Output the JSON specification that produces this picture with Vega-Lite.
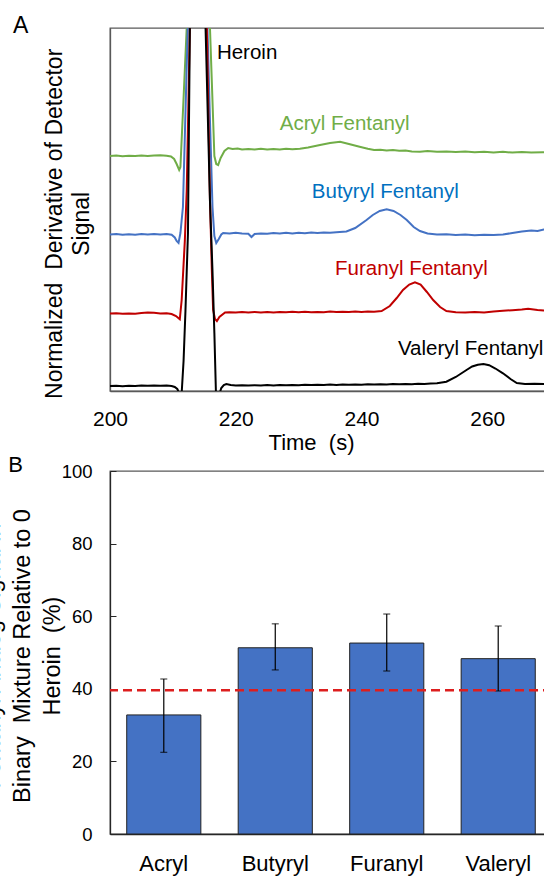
{
  "$schema": "https://vega.github.io/schema/vega-lite/v6.json",
  "autosize": {"type": "none"},
  "padding": {"left": 110, "top": 28, "right": 434, "bottom": 848},
  "background": "white",
  "bounds": "flush",
  "spacing": 80,
  "config": {
    "font": "Liberation Sans",
    "view": {"stroke": "#595959", "strokeWidth": 1.3},
    "title": {"font": "Liberation Sans", "fontWeight": "normal", "fontSize": 23, "color": "#000000"},
    "axis": {"labelFont": "Liberation Sans", "titleFont": "Liberation Sans", "labelColor": "#000000", "titleColor": "#000000", "titleFontWeight": "normal", "grid": false, "domainColor": "#404040", "tickColor": "#404040", "domainWidth": 1.3, "labelFlush": false}
  },
  "datasets": {
    "traces": [
      {"s":"Acryl","t":200,"v":235},{"s":"Acryl","t":201,"v":235.5},{"s":"Acryl","t":202,"v":234.8},{"s":"Acryl","t":203,"v":235.3},{"s":"Acryl","t":204,"v":235},{"s":"Acryl","t":205,"v":235.6},{"s":"Acryl","t":206,"v":235},{"s":"Acryl","t":207,"v":235.4},{"s":"Acryl","t":208,"v":235.8},{"s":"Acryl","t":209,"v":235.2},{"s":"Acryl","t":209.7,"v":234.5},{"s":"Acryl","t":210.2,"v":232},{"s":"Acryl","t":210.6,"v":227},{"s":"Acryl","t":211.0,"v":221},{"s":"Acryl","t":211.2,"v":224},{"s":"Acryl","t":211.7,"v":293},{"s":"Acryl","t":212.2,"v":363},{"s":"Acryl","t":212.5,"v":450},{"s":"Acryl","t":213.2,"v":1500},{"s":"Acryl","t":214,"v":3000},{"s":"Acryl","t":214.8,"v":1500},{"s":"Acryl","t":215.6,"v":450},{"s":"Acryl","t":215.9,"v":363},{"s":"Acryl","t":216.3,"v":290},{"s":"Acryl","t":216.6,"v":235},{"s":"Acryl","t":216.9,"v":227},{"s":"Acryl","t":217.2,"v":226},{"s":"Acryl","t":217.6,"v":233},{"s":"Acryl","t":218.2,"v":240},{"s":"Acryl","t":218.8,"v":243},{"s":"Acryl","t":219.5,"v":242},{"s":"Acryl","t":220.3,"v":242.5},{"s":"Acryl","t":221,"v":241.5},{"s":"Acryl","t":222,"v":242},{"s":"Acryl","t":223,"v":241.5},{"s":"Acryl","t":224,"v":242.3},{"s":"Acryl","t":225,"v":241.6},{"s":"Acryl","t":226,"v":242},{"s":"Acryl","t":227,"v":241.4},{"s":"Acryl","t":228,"v":242.2},{"s":"Acryl","t":229,"v":241.7},{"s":"Acryl","t":230.2,"v":242.3},{"s":"Acryl","t":231.5,"v":243.5},{"s":"Acryl","t":233.4,"v":246},{"s":"Acryl","t":235,"v":248},{"s":"Acryl","t":236.6,"v":249.3},{"s":"Acryl","t":238,"v":247},{"s":"Acryl","t":239.7,"v":244.3},{"s":"Acryl","t":241,"v":242.3},{"s":"Acryl","t":242,"v":241},{"s":"Acryl","t":243,"v":241.3},{"s":"Acryl","t":244,"v":240.5},{"s":"Acryl","t":245,"v":241},{"s":"Acryl","t":246,"v":240.2},{"s":"Acryl","t":247,"v":240.4},{"s":"Acryl","t":248,"v":239.6},{"s":"Acryl","t":249.3,"v":239.3},{"s":"Acryl","t":250.5,"v":240},{"s":"Acryl","t":252,"v":239.2},{"s":"Acryl","t":253.5,"v":239.6},{"s":"Acryl","t":255,"v":239},{"s":"Acryl","t":256.5,"v":239.5},{"s":"Acryl","t":258,"v":238.8},{"s":"Acryl","t":259.5,"v":239.3},{"s":"Acryl","t":261,"v":238.6},{"s":"Acryl","t":262.5,"v":239.2},{"s":"Acryl","t":264,"v":238.4},{"s":"Acryl","t":265.5,"v":239},{"s":"Acryl","t":267,"v":238.6},{"s":"Acryl","t":268.8,"v":238.7},{"s":"Acryl","t":270,"v":238.5},{"s":"Acryl","t":275,"v":238.5},{"s":"Acryl","t":280,"v":238.5},

      {"s":"Butyryl","t":200,"v":156.5},{"s":"Butyryl","t":201,"v":157},{"s":"Butyryl","t":202,"v":156.2},{"s":"Butyryl","t":203,"v":156.8},{"s":"Butyryl","t":204,"v":156.3},{"s":"Butyryl","t":205,"v":157},{"s":"Butyryl","t":206,"v":156.5},{"s":"Butyryl","t":207,"v":156.9},{"s":"Butyryl","t":208,"v":156.4},{"s":"Butyryl","t":209,"v":157},{"s":"Butyryl","t":209.8,"v":156.3},{"s":"Butyryl","t":210.3,"v":153.5},{"s":"Butyryl","t":210.6,"v":150},{"s":"Butyryl","t":210.9,"v":148},{"s":"Butyryl","t":211.2,"v":158},{"s":"Butyryl","t":211.6,"v":184},{"s":"Butyryl","t":212.0,"v":278},{"s":"Butyryl","t":212.4,"v":371},{"s":"Butyryl","t":212.8,"v":600},{"s":"Butyryl","t":214,"v":3000},{"s":"Butyryl","t":215.2,"v":600},{"s":"Butyryl","t":215.5,"v":363},{"s":"Butyryl","t":215.9,"v":270},{"s":"Butyryl","t":216.3,"v":184},{"s":"Butyryl","t":216.6,"v":155},{"s":"Butyryl","t":216.9,"v":148},{"s":"Butyryl","t":217.3,"v":152},{"s":"Butyryl","t":217.7,"v":156.5},{"s":"Butyryl","t":218,"v":158},{"s":"Butyryl","t":219,"v":157.5},{"s":"Butyryl","t":220,"v":158.2},{"s":"Butyryl","t":221,"v":157.6},{"s":"Butyryl","t":222,"v":157.2},{"s":"Butyryl","t":222.5,"v":154},{"s":"Butyryl","t":223,"v":157},{"s":"Butyryl","t":224,"v":157.6},{"s":"Butyryl","t":225,"v":157.2},{"s":"Butyryl","t":226,"v":158},{"s":"Butyryl","t":227,"v":157.5},{"s":"Butyryl","t":228,"v":158.2},{"s":"Butyryl","t":229,"v":157.6},{"s":"Butyryl","t":230,"v":158.3},{"s":"Butyryl","t":231,"v":157.8},{"s":"Butyryl","t":232,"v":158.4},{"s":"Butyryl","t":233,"v":157.9},{"s":"Butyryl","t":234,"v":158.5},{"s":"Butyryl","t":235,"v":158.2},{"s":"Butyryl","t":236,"v":158.8},{"s":"Butyryl","t":237.6,"v":159.5},{"s":"Butyryl","t":239,"v":163},{"s":"Butyryl","t":240.8,"v":171},{"s":"Butyryl","t":241.8,"v":176},{"s":"Butyryl","t":242.9,"v":180},{"s":"Butyryl","t":244,"v":181.7},{"s":"Butyryl","t":245.1,"v":180},{"s":"Butyryl","t":246.2,"v":176},{"s":"Butyryl","t":247.2,"v":171},{"s":"Butyryl","t":248.3,"v":164},{"s":"Butyryl","t":249.3,"v":160},{"s":"Butyryl","t":250.5,"v":157.5},{"s":"Butyryl","t":252,"v":156.5},{"s":"Butyryl","t":253.5,"v":156.8},{"s":"Butyryl","t":255,"v":156},{"s":"Butyryl","t":256.5,"v":156.4},{"s":"Butyryl","t":258,"v":155.7},{"s":"Butyryl","t":259.5,"v":156.2},{"s":"Butyryl","t":261,"v":156},{"s":"Butyryl","t":262.5,"v":156.5},{"s":"Butyryl","t":264,"v":158},{"s":"Butyryl","t":265.5,"v":159.5},{"s":"Butyryl","t":267,"v":160.5},{"s":"Butyryl","t":268,"v":160},{"s":"Butyryl","t":269,"v":161.5},{"s":"Butyryl","t":272,"v":161.5},{"s":"Butyryl","t":280,"v":162},

      {"s":"Furanyl","t":200,"v":77.5},{"s":"Furanyl","t":201,"v":77.8},{"s":"Furanyl","t":202,"v":77.2},{"s":"Furanyl","t":203,"v":77.6},{"s":"Furanyl","t":204,"v":77.3},{"s":"Furanyl","t":205,"v":78},{"s":"Furanyl","t":206,"v":78.5},{"s":"Furanyl","t":207,"v":78.2},{"s":"Furanyl","t":208,"v":77.4},{"s":"Furanyl","t":209,"v":77.8},{"s":"Furanyl","t":209.8,"v":77},{"s":"Furanyl","t":210.5,"v":75},{"s":"Furanyl","t":211.1,"v":71.7},{"s":"Furanyl","t":211.4,"v":91},{"s":"Furanyl","t":211.9,"v":150},{"s":"Furanyl","t":212.2,"v":200},{"s":"Furanyl","t":212.7,"v":363},{"s":"Furanyl","t":213,"v":500},{"s":"Furanyl","t":214,"v":3000},{"s":"Furanyl","t":215.1,"v":500},{"s":"Furanyl","t":215.4,"v":363},{"s":"Furanyl","t":215.9,"v":191},{"s":"Furanyl","t":216.2,"v":120},{"s":"Furanyl","t":216.4,"v":81},{"s":"Furanyl","t":216.7,"v":72},{"s":"Furanyl","t":217,"v":70},{"s":"Furanyl","t":217.4,"v":74},{"s":"Furanyl","t":218.3,"v":78.5},{"s":"Furanyl","t":219,"v":78.8},{"s":"Furanyl","t":220,"v":78.5},{"s":"Furanyl","t":221,"v":79.1},{"s":"Furanyl","t":222,"v":78.6},{"s":"Furanyl","t":223,"v":79},{"s":"Furanyl","t":224,"v":78.5},{"s":"Furanyl","t":225,"v":78.9},{"s":"Furanyl","t":226,"v":78.6},{"s":"Furanyl","t":227,"v":79.1},{"s":"Furanyl","t":228,"v":78.7},{"s":"Furanyl","t":229,"v":79.2},{"s":"Furanyl","t":230,"v":78.8},{"s":"Furanyl","t":231,"v":79.3},{"s":"Furanyl","t":232,"v":78.7},{"s":"Furanyl","t":233,"v":79.1},{"s":"Furanyl","t":234,"v":78.8},{"s":"Furanyl","t":235,"v":79.4},{"s":"Furanyl","t":236,"v":78.9},{"s":"Furanyl","t":237,"v":79.3},{"s":"Furanyl","t":238,"v":79},{"s":"Furanyl","t":239,"v":79.5},{"s":"Furanyl","t":240,"v":79.1},{"s":"Furanyl","t":241,"v":79.6},{"s":"Furanyl","t":242,"v":79.3},{"s":"Furanyl","t":243.2,"v":80},{"s":"Furanyl","t":244.5,"v":85},{"s":"Furanyl","t":245.6,"v":93},{"s":"Furanyl","t":246.6,"v":101},{"s":"Furanyl","t":247.6,"v":106.5},{"s":"Furanyl","t":248.5,"v":108.7},{"s":"Furanyl","t":249.4,"v":106.5},{"s":"Furanyl","t":250.4,"v":99},{"s":"Furanyl","t":251.4,"v":91},{"s":"Furanyl","t":252.5,"v":84},{"s":"Furanyl","t":253.5,"v":80},{"s":"Furanyl","t":255,"v":78.8},{"s":"Furanyl","t":256.5,"v":78.4},{"s":"Furanyl","t":258,"v":78.9},{"s":"Furanyl","t":259.5,"v":78.6},{"s":"Furanyl","t":261,"v":79.4},{"s":"Furanyl","t":262.5,"v":80.2},{"s":"Furanyl","t":264,"v":80.8},{"s":"Furanyl","t":265.5,"v":81.6},{"s":"Furanyl","t":266.5,"v":82.3},{"s":"Furanyl","t":268,"v":81},{"s":"Furanyl","t":269,"v":80.5},{"s":"Furanyl","t":272,"v":80},{"s":"Furanyl","t":280,"v":80},

      {"s":"Valeryl","t":200,"v":5},{"s":"Valeryl","t":201,"v":5.3},{"s":"Valeryl","t":202,"v":4.8},{"s":"Valeryl","t":203,"v":5.2},{"s":"Valeryl","t":204,"v":5},{"s":"Valeryl","t":205,"v":5.5},{"s":"Valeryl","t":206,"v":5.2},{"s":"Valeryl","t":207,"v":5.6},{"s":"Valeryl","t":208,"v":5.3},{"s":"Valeryl","t":209,"v":5.4},{"s":"Valeryl","t":209.8,"v":5},{"s":"Valeryl","t":210.3,"v":4},{"s":"Valeryl","t":210.7,"v":2},{"s":"Valeryl","t":211.1,"v":-3},{"s":"Valeryl","t":211.4,"v":-2},{"s":"Valeryl","t":211.7,"v":30},{"s":"Valeryl","t":212.0,"v":80},{"s":"Valeryl","t":212.4,"v":158},{"s":"Valeryl","t":212.7,"v":363},{"s":"Valeryl","t":213,"v":600},{"s":"Valeryl","t":214,"v":3000},{"s":"Valeryl","t":215,"v":600},{"s":"Valeryl","t":215.2,"v":363},{"s":"Valeryl","t":215.9,"v":190},{"s":"Valeryl","t":216.3,"v":120},{"s":"Valeryl","t":216.6,"v":58},{"s":"Valeryl","t":216.85,"v":-2},{"s":"Valeryl","t":217.4,"v":-3},{"s":"Valeryl","t":217.7,"v":3},{"s":"Valeryl","t":218.1,"v":6},{"s":"Valeryl","t":218.5,"v":7},{"s":"Valeryl","t":219.2,"v":6},{"s":"Valeryl","t":220,"v":5.5},{"s":"Valeryl","t":221,"v":5.8},{"s":"Valeryl","t":222,"v":5.4},{"s":"Valeryl","t":223,"v":5.7},{"s":"Valeryl","t":224,"v":5.5},{"s":"Valeryl","t":225,"v":5.9},{"s":"Valeryl","t":226,"v":5.6},{"s":"Valeryl","t":227,"v":6},{"s":"Valeryl","t":228,"v":5.7},{"s":"Valeryl","t":229,"v":6.1},{"s":"Valeryl","t":230,"v":5.8},{"s":"Valeryl","t":231,"v":6.2},{"s":"Valeryl","t":232,"v":5.9},{"s":"Valeryl","t":233,"v":6.3},{"s":"Valeryl","t":234,"v":6},{"s":"Valeryl","t":235,"v":6.4},{"s":"Valeryl","t":236,"v":6.1},{"s":"Valeryl","t":237,"v":6.5},{"s":"Valeryl","t":238,"v":6.2},{"s":"Valeryl","t":239,"v":6.6},{"s":"Valeryl","t":240,"v":6.3},{"s":"Valeryl","t":241,"v":6.7},{"s":"Valeryl","t":242,"v":6.4},{"s":"Valeryl","t":243,"v":6.8},{"s":"Valeryl","t":244,"v":6.5},{"s":"Valeryl","t":245,"v":6.9},{"s":"Valeryl","t":246,"v":6.7},{"s":"Valeryl","t":247,"v":7},{"s":"Valeryl","t":248,"v":6.8},{"s":"Valeryl","t":249,"v":7.2},{"s":"Valeryl","t":250,"v":7},{"s":"Valeryl","t":251,"v":7.5},{"s":"Valeryl","t":252,"v":7.8},{"s":"Valeryl","t":253.5,"v":9.3},{"s":"Valeryl","t":255,"v":14},{"s":"Valeryl","t":256.7,"v":21},{"s":"Valeryl","t":257.6,"v":24.5},{"s":"Valeryl","t":258.5,"v":26.3},{"s":"Valeryl","t":259.4,"v":27},{"s":"Valeryl","t":260.3,"v":25.8},{"s":"Valeryl","t":261.3,"v":22.5},{"s":"Valeryl","t":262.5,"v":17.7},{"s":"Valeryl","t":263.7,"v":12},{"s":"Valeryl","t":264.7,"v":8},{"s":"Valeryl","t":266,"v":7},{"s":"Valeryl","t":267.5,"v":7.2},{"s":"Valeryl","t":269,"v":7},{"s":"Valeryl","t":272,"v":7},{"s":"Valeryl","t":280,"v":7}
    ],
    "labels": [
      {"label": "Heroin", "t": 217, "v": 332},
      {"label": "Acryl Fentanyl", "t": 227, "v": 261},
      {"label": "Butyryl Fentanyl", "t": 232.1, "v": 193},
      {"label": "Furanyl Fentanyl", "t": 235.8, "v": 116},
      {"label": "Valeryl Fentanyl", "t": 245.8, "v": 36}
    ],
    "bars": [
      {"cat": "Acryl", "value": 32.8, "lo": 22.5, "hi": 42.7},
      {"cat": "Butyryl", "value": 51.3, "lo": 45.2, "hi": 57.9},
      {"cat": "Furanyl", "value": 52.6, "lo": 44.9, "hi": 60.6},
      {"cat": "Valeryl", "value": 48.3, "lo": 39.4, "hi": 57.3}
    ],
    "reference": [{"ref": 39.6}]
  },
  "vconcat": [
    {
      "width": 503,
      "height": 363,
      "title": {"text": "A", "anchor": "start", "frame": "group", "baseline": "alphabetic", "offset": -24, "dx": -97, "dy": 4, "fontSize": 23},
      "resolve": {"scale": {"color": "independent"}},
      "layer": [
        {
          "data": {"name": "traces"},
          "mark": {"type": "line", "clip": true, "strokeWidth": 2},
          "encoding": {
            "x": {"field": "t", "type": "quantitative",
              "scale": {"domain": [200, 280], "nice": false, "zero": false},
              "axis": {"values": [200, 220, 240, 260, 280], "ticks": false, "labelPadding": 17, "labelFontSize": 21, "labelFlush": false,
                "title": "Time\u00a0\u00a0(s)", "titleFontSize": 22, "titleX": 201, "titleY": 58, "titleBaseline": "alphabetic", "titleAlign": "center", "domainColor": "#595959"}},
            "y": {"field": "v", "type": "quantitative",
              "scale": {"domain": [0, 363], "nice": false, "zero": false},
              "axis": {"ticks": false, "labels": false, "domainColor": "#595959",
                "title": ["Normalized\u00a0\u00a0Derivative of Detector", "Signal"], "titleFontSize": 23, "titleLineHeight": 27,
                "titleX": -48.3, "titleY": 195.3, "titleAngle": -90, "titleAlign": "center", "titleBaseline": "alphabetic"}},
            "color": {"field": "s", "type": "nominal",
              "scale": {"domain": ["Acryl", "Butyryl", "Furanyl", "Valeryl"], "range": ["#70AD47", "#4472C4", "#C00000", "#000000"]},
              "legend": null}
          }
        },
        {
          "data": {"name": "labels"},
          "mark": {"type": "text", "align": "left", "baseline": "alphabetic", "fontSize": 20.5, "font": "Liberation Sans"},
          "encoding": {
            "x": {"field": "t", "type": "quantitative"},
            "y": {"field": "v", "type": "quantitative"},
            "text": {"field": "label"},
            "color": {"field": "label", "type": "nominal",
              "scale": {"domain": ["Heroin", "Acryl Fentanyl", "Butyryl Fentanyl", "Furanyl Fentanyl", "Valeryl Fentanyl"],
                "range": ["#000000", "#70AD47", "#0070C0", "#C00000", "#000000"]},
              "legend": null}
          }
        }
      ]
    },
    {
      "width": 442,
      "height": 363,
      "title": {"text": "B", "anchor": "start", "frame": "group", "baseline": "alphabetic", "offset": -31, "dx": -101.7, "dy": 1, "fontSize": 22},
      "data": {"name": "bars"},
      "layer": [
        {
          "mark": {"type": "bar", "color": "#4472C4", "stroke": "#222222", "strokeWidth": 1},
          "encoding": {
            "x": {"field": "cat", "type": "nominal", "sort": null,
              "scale": {"paddingInner": 0.335, "paddingOuter": 0.15},
              "axis": {"title": null, "ticks": false, "labelAngle": 0, "labelPadding": 19, "labelFontSize": 22, "domainColor": "#262626"}},
            "y": {"field": "value", "type": "quantitative",
              "scale": {"domain": [0, 100], "nice": false},
              "axis": {"values": [0, 10, 20, 30, 40, 50, 60, 70, 80, 90, 100],
                "labelExpr": "datum.value % 20 === 0 ? datum.label : ''",
                "tickSize": -6, "labelPadding": 24, "labelFontSize": 18.5, "domainColor": "#262626", "tickColor": "#262626",
                "title": ["Fentanyl Analog Signal in", "Binary\u00a0\u00a0Mixture Relative to 0", "Heroin\u00a0\u00a0(%)"],
                "titleFontSize": 23.5, "titleLineHeight": 30, "titleX": -110.5, "titleY": 184.5,
                "titleAngle": -90, "titleAlign": "center", "titleBaseline": "alphabetic"}}
          }
        },
        {
          "mark": {"type": "rule", "color": "#000000", "strokeWidth": 1.2},
          "encoding": {
            "x": {"field": "cat", "type": "nominal", "sort": null},
            "y": {"field": "lo", "type": "quantitative"},
            "y2": {"field": "hi"}
          }
        },
        {
          "mark": {"type": "tick", "color": "#000000", "size": 7, "thickness": 1.2, "orient": "horizontal"},
          "encoding": {
            "x": {"field": "cat", "type": "nominal", "sort": null},
            "y": {"field": "hi", "type": "quantitative"}
          }
        },
        {
          "mark": {"type": "tick", "color": "#000000", "size": 7, "thickness": 1.2, "orient": "horizontal"},
          "encoding": {
            "x": {"field": "cat", "type": "nominal", "sort": null},
            "y": {"field": "lo", "type": "quantitative"}
          }
        },
        {
          "data": {"name": "reference"},
          "mark": {"type": "rule", "color": "#DD1E1E", "strokeWidth": 2.5, "strokeDash": [9, 5]},
          "encoding": {
            "y": {"field": "ref", "type": "quantitative"}
          }
        }
      ]
    }
  ]
}
